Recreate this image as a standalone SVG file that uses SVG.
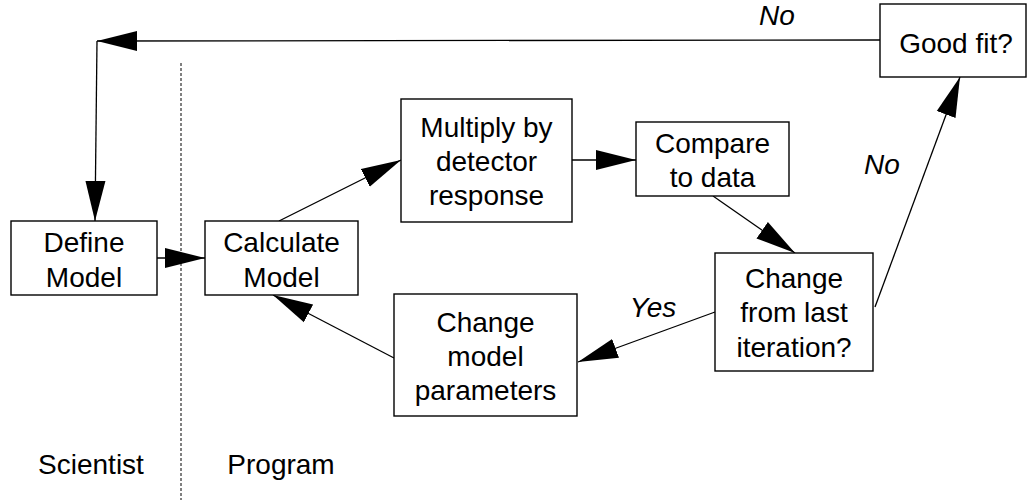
<svg xmlns="http://www.w3.org/2000/svg" width="1027" height="500" viewBox="0 0 1027 500">
  <style>
    .box { fill: #ffffff; stroke: #000000; stroke-width: 1.4; }
    .lbl { font-family: "Liberation Sans", Arial, sans-serif; font-size: 28px; fill: #000000; text-anchor: middle; }
    .cond { font-family: "Liberation Sans", Arial, sans-serif; font-size: 28px; font-style: italic; fill: #000000; text-anchor: middle; }
    .edge { fill: none; stroke: #000000; stroke-width: 1.3; marker-end: url(#head); }
    .divider { stroke: #000000; stroke-width: 1; stroke-dasharray: 3 2; }
  </style>
  <defs>
    <marker id="head" markerUnits="userSpaceOnUse" markerWidth="40" markerHeight="22" refX="40" refY="11" orient="auto">
      <path d="M0,1 L40,11 L0,21 z" fill="#000000"/>
    </marker>
  </defs>

  <rect width="1027" height="500" fill="#ffffff"/>

  <!-- lane divider between the two roles -->
  <line class="divider" x1="181" y1="63" x2="181" y2="500"/>
  <text class="lbl" x="91" y="474">Scientist</text>
  <text class="lbl" x="281" y="474">Program</text>

  <!-- connectors -->
  <g id="connectors">
    <path class="edge" d="M880,40 L97,41"/>
    <path class="edge" d="M97,41 L95,221"/>
    <path class="edge" d="M157,258 L205,258"/>
    <path class="edge" d="M279,221 L401,160"/>
    <path class="edge" d="M572,160 L636,160"/>
    <path class="edge" d="M713,196 L795,253"/>
    <path class="edge" d="M875,307 L960,77"/>
    <path class="edge" d="M715,312 L578,362"/>
    <path class="edge" d="M394,358 L273,295"/>
    <text class="cond" x="777" y="25">No</text>
    <text class="cond" x="882" y="174">No</text>
    <text class="cond" x="653" y="317">Yes</text>
  </g>

  <g id="define-model">
    <rect class="box" x="11" y="221" width="146" height="74"/>
    <text class="lbl" x="84" y="252">Define</text>
    <text class="lbl" x="84" y="287">Model</text>
  </g>

  <g id="calculate-model">
    <rect class="box" x="205" y="221" width="153" height="74"/>
    <text class="lbl" x="281.5" y="252">Calculate</text>
    <text class="lbl" x="281.5" y="287">Model</text>
  </g>

  <g id="multiply-response">
    <rect class="box" x="401" y="99" width="171" height="123"/>
    <text class="lbl" x="486.5" y="137">Multiply by</text>
    <text class="lbl" x="486.5" y="171">detector</text>
    <text class="lbl" x="486.5" y="205">response</text>
  </g>

  <g id="compare-data">
    <rect class="box" x="636" y="122" width="153" height="74"/>
    <text class="lbl" x="712.5" y="153">Compare</text>
    <text class="lbl" x="712.5" y="187">to data</text>
  </g>

  <g id="change-check">
    <rect class="box" x="715" y="253" width="158" height="118"/>
    <text class="lbl" x="794" y="288">Change</text>
    <text class="lbl" x="794" y="322">from last</text>
    <text class="lbl" x="794" y="357">iteration?</text>
  </g>

  <g id="good-fit">
    <rect class="box" x="880" y="4" width="146" height="73"/>
    <text class="lbl" x="956" y="53">Good fit?</text>
  </g>

  <g id="change-parameters">
    <rect class="box" x="394" y="294" width="183" height="122"/>
    <text class="lbl" x="485.5" y="332">Change</text>
    <text class="lbl" x="485.5" y="366">model</text>
    <text class="lbl" x="485.5" y="400">parameters</text>
  </g>
</svg>
